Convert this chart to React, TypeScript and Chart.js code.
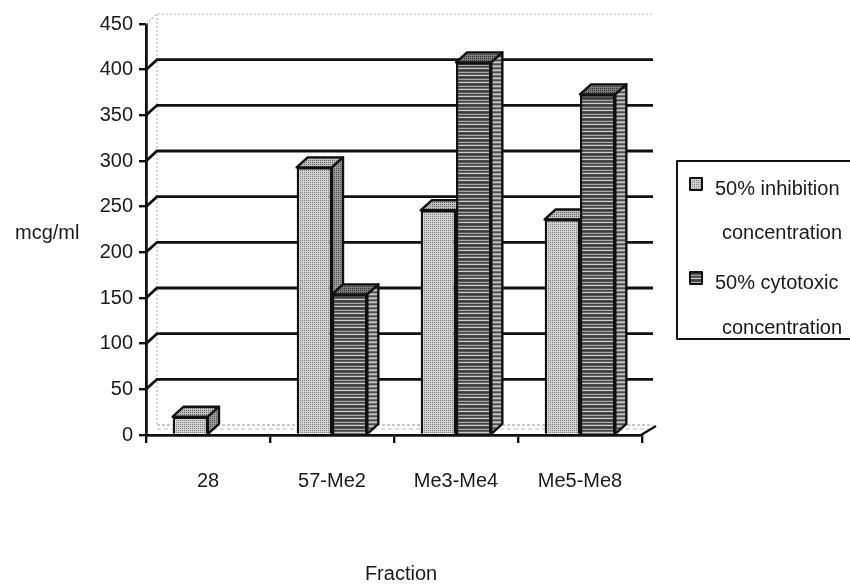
import { useEffect, useRef } from 'react';
import { Chart, registerables } from 'chart.js';

Chart.register(...registerables);

// ---- data ----
const CATEGORIES = ['28', '57-Me2', 'Me3-Me4', 'Me5-Me8'];
const INHIBITION_50 = [20, 293, 246, 236];
const CYTOTOXIC_50: (number | null)[] = [null, 154, 408, 373];
const SERIES_LABELS = ['50% inhibition concentration', '50% cytotoxic concentration'];
const LEGEND_LINES = [
  ['50% inhibition', 'concentration'],
  ['50% cytotoxic', 'concentration'],
];
const Y_MIN = 0;
const Y_MAX = 450;
const Y_STEP = 50;
const Y_TITLE = 'mcg/ml';
const X_TITLE = 'Fraction';

// ---- look ----
const FONT = 'Liberation Sans, Arial, Helvetica, sans-serif';
const INK = '#111111';
const TEXT = '#1a1a1a';
const DX = 11; // 3D depth offset, horizontal
const DY = 10; // 3D depth offset, vertical

function tile(w: number, h: number, paint: (c: CanvasRenderingContext2D) => void) {
  const t = document.createElement('canvas');
  t.width = w;
  t.height = h;
  const c = t.getContext('2d')!;
  paint(c);
  return t;
}

function stipple(ctx: CanvasRenderingContext2D, bg: string, dot: string) {
  const t = tile(4, 4, (c) => {
    c.fillStyle = bg;
    c.fillRect(0, 0, 4, 4);
    c.fillStyle = dot;
    c.fillRect(0, 0, 1, 1);
    c.fillRect(2, 2, 1, 1);
    c.fillRect(2, 0, 1, 1);
    c.fillRect(0, 2, 1, 1);
  });
  return ctx.createPattern(t, 'repeat')!;
}

function hatch(ctx: CanvasRenderingContext2D, rows: string[]) {
  const t = tile(8, rows.length, (c) => {
    rows.forEach((col, i) => {
      c.fillStyle = col;
      c.fillRect(0, i, 8, 1);
    });
  });
  return ctx.createPattern(t, 'repeat')!;
}

export default function App() {
  const ref = useRef<HTMLCanvasElement>(null);

  useEffect(() => {
    const canvas = ref.current!;
    const ctx = canvas.getContext('2d')!;

    const fills = {
      inhFront: stipple(ctx, '#d2d2d2', '#7e7e7e'),
      inhTop: stipple(ctx, '#c0c0c0', '#606060'),
      inhSide: stipple(ctx, '#9c9c9c', '#4a4a4a'),
      cytFront: hatch(ctx, ['#3c3c3c', '#585858', '#a8a8a8', '#454545', '#626262', '#cfcfcf', '#4a4a4a']),
      cytTop: stipple(ctx, '#7c7c7c', '#2c2c2c'),
      cytSide: hatch(ctx, ['#505050', '#9a9a9a', '#c8c8c8', '#6e6e6e']),
    };
    const faceFills = [
      { top: fills.inhTop, side: fills.inhSide },
      { top: fills.cytTop, side: fills.cytSide },
    ];

    const poly = (pts: number[][], fill: CanvasPattern | string) => {
      ctx.beginPath();
      ctx.moveTo(pts[0][0], pts[0][1]);
      for (let k = 1; k < pts.length; k++) ctx.lineTo(pts[k][0], pts[k][1]);
      ctx.closePath();
      ctx.fillStyle = fill;
      ctx.fill();
      ctx.lineWidth = 2.4;
      ctx.lineJoin = 'round';
      ctx.strokeStyle = INK;
      ctx.stroke();
    };

    const line = (pts: number[][], color: string, width: number, dash: number[] = []) => {
      ctx.save();
      ctx.beginPath();
      ctx.moveTo(pts[0][0], pts[0][1]);
      for (let k = 1; k < pts.length; k++) ctx.lineTo(pts[k][0], pts[k][1]);
      ctx.strokeStyle = color;
      ctx.lineWidth = width;
      ctx.setLineDash(dash);
      ctx.stroke();
      ctx.restore();
    };

    const paperPlugin = {
      id: 'paper',
      beforeDraw(chart: Chart) {
        const c = chart.ctx;
        c.save();
        c.fillStyle = '#ffffff';
        c.fillRect(0, 0, chart.width, chart.height);
        c.restore();
      },
    };

    // back wall, floor and gridlines sitting behind the columns
    const wallPlugin = {
      id: 'wall',
      beforeDatasetsDraw(chart: Chart) {
        const { left, right, top, bottom } = chart.chartArea;
        const ys = chart.scales.y;
        const faint = '#b8b8b8';
        line([[left, top], [left + DX, top - DY], [right + DX, top - DY]], faint, 1.2, [2, 2]);
        line([[left + DX, top - DY], [left + DX, bottom - DY]], faint, 1.2, [2, 2]);
        line([[left + DX, bottom - DY], [right + DX, bottom - DY]], faint, 1.5, [3, 2]);
        line([[left + DX, bottom - DY + 4], [right + DX - 4, bottom - DY + 4]], '#dddddd', 2, [4, 3]);
        ys.ticks.forEach((t) => {
          const v = t.value;
          if (v <= Y_MIN || v >= Y_MAX) return;
          const y = ys.getPixelForValue(v);
          line([[left, y], [left + DX, y - DY], [right + DX, y - DY]], INK, 2.8);
        });
        line([[right - 1, bottom], [right + DX + 3, bottom - DY + 1]], INK, 2.2);
      },
      afterDatasetsDraw(chart: Chart) {
        const metas = [chart.getDatasetMeta(0), chart.getDatasetMeta(1)];
        CATEGORIES.forEach((_, i) => {
          metas.forEach((meta, d) => {
            const value = chart.data.datasets[d].data[i];
            if (value === null || value === undefined) return;
            const el: any = meta.data[i];
            const p = el.getProps(['x', 'y', 'base', 'width'], true);
            if (d > 0) el.draw(ctx, chart.chartArea);
            const l = p.x - p.width / 2;
            const r = p.x + p.width / 2;
            const t = p.y;
            const b = p.base;
            poly([[l, t], [l + DX, t - DY], [r + DX, t - DY], [r, t]], faceFills[d].top);
            poly([[r, t], [r + DX, t - DY], [r + DX, b - DY], [r, b]], faceFills[d].side);
          });
        });
      },
      afterDraw(chart: Chart) {
        const c = chart.ctx;
        c.save();
        c.fillStyle = TEXT;
        c.font = `20px ${FONT}`;
        c.textBaseline = 'middle';
        c.textAlign = 'left';
        c.fillText(Y_TITLE, 15, 233);
        c.textAlign = 'center';
        c.fillText(X_TITLE, 401, 574);

        // legend box
        c.strokeStyle = INK;
        c.lineWidth = 2;
        c.strokeRect(677, 161, 200, 178);
        const markers = [fills.inhFront, fills.cytFront];
        const rowsY = [[189, 233], [283, 328]];
        LEGEND_LINES.forEach((lines, k) => {
          const [y1, y2] = rowsY[k];
          c.fillStyle = markers[k];
          c.fillRect(690, y1 - 11, 12, 12);
          c.lineWidth = 2;
          c.strokeRect(690, y1 - 11, 12, 12);
          c.fillStyle = TEXT;
          c.textAlign = 'left';
          c.fillText(lines[0], 715, y1);
          c.fillText(lines[1], 722, y2);
        });
        c.restore();
      },
    };

    const chart = new Chart(ctx, {
      type: 'bar',
      data: {
        labels: CATEGORIES,
        datasets: [
          {
            label: SERIES_LABELS[0],
            data: INHIBITION_50,
            backgroundColor: fills.inhFront,
            borderColor: INK,
            borderWidth: 2.4,
            categoryPercentage: 0.57,
            barPercentage: 1,
          },
          {
            label: SERIES_LABELS[1],
            data: CYTOTOXIC_50,
            backgroundColor: fills.cytFront,
            borderColor: INK,
            borderWidth: 2.4,
            categoryPercentage: 0.57,
            barPercentage: 1,
          },
        ],
      },
      options: {
        responsive: false,
        animation: false,
        devicePixelRatio: 1,
        layout: { padding: { top: 24, right: 208, left: 0, bottom: 0 } },
        plugins: {
          legend: { display: false },
          tooltip: { enabled: false },
        },
        scales: {
          x: {
            grid: {
              offset: true,
              drawOnChartArea: false,
              drawTicks: true,
              tickLength: 8,
              color: INK,
              lineWidth: 2.4,
            },
            border: { display: true, color: INK, width: 2.8 },
            ticks: {
              font: { family: FONT, size: 20 },
              color: TEXT,
              padding: 26,
              maxRotation: 0,
            },
            afterFit: (s: any) => {
              s.height = 152;
            },
          },
          y: {
            min: Y_MIN,
            max: Y_MAX,
            ticks: {
              stepSize: Y_STEP,
              font: { family: FONT, size: 20 },
              color: TEXT,
              padding: 6,
            },
            grid: {
              drawOnChartArea: false,
              drawTicks: true,
              tickLength: 7,
              color: INK,
              lineWidth: 2.4,
            },
            border: { display: true, color: INK, width: 2.8 },
            afterFit: (s: any) => {
              s.width = 146;
            },
          },
        },
      },
      plugins: [paperPlugin, wallPlugin],
    });

    return () => chart.destroy();
  }, []);

  return (
    <div style={{ position: 'absolute', left: 0, top: 0, width: 850, height: 587, background: '#fff' }}>
      <canvas ref={ref} width={850} height={587} style={{ display: 'block', width: 850, height: 587 }} />
    </div>
  );
}
